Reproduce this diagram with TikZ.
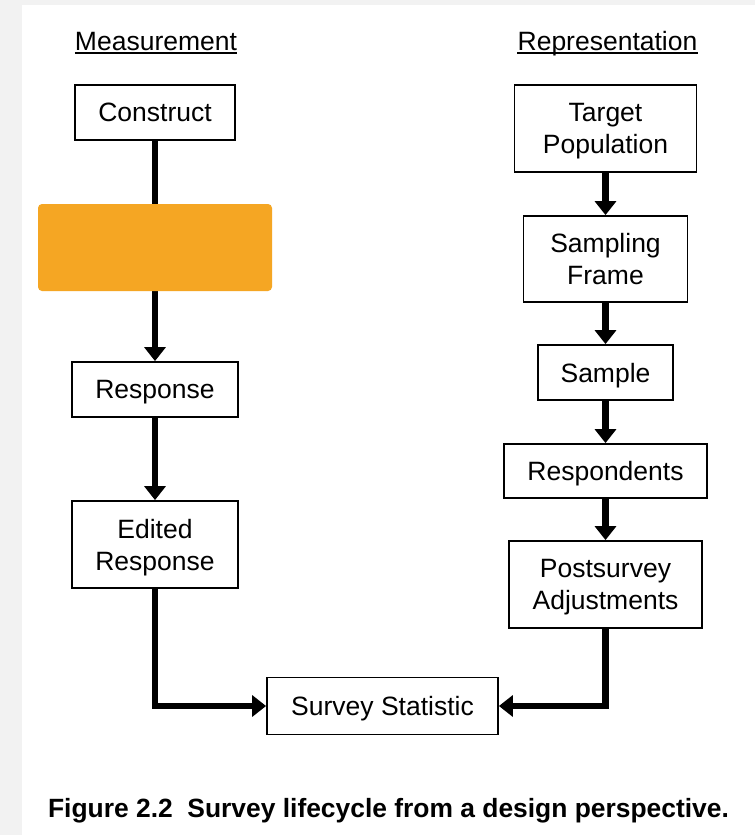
\documentclass[tikz,border=0pt]{standalone}
\usepackage{fontspec}
\setmainfont{Liberation Sans}
\usetikzlibrary{arrows.meta}
\definecolor{pagegray}{HTML}{F2F2F2}
\definecolor{coverorange}{HTML}{F5A623}
\tikzset{
  stage/.style={draw=black, line width=1.8pt, fill=white, align=center,
    inner sep=0pt, text depth=0pt, font=\fontsize{26.5}{32}\selectfont},
  flow/.style={line width=6.5pt,
    -{Triangle[width=21pt,length=14pt]}},
  heading/.style={inner sep=0pt, anchor=base, font=\fontsize{26.5}{31}\selectfont},
}
\begin{document}
\begin{tikzpicture}[x=1pt, y=-1pt]
  % page and panel
  \fill[pagegray] (0,0) rectangle (755,835);
  \fill[white] (22,5) rectangle (755,835);
  \useasboundingbox (0,0) rectangle (755,835);

  % column headings
  \node[heading] (hmeas) at (156,50) {Measurement};
  \node[heading] (hrep) at (607.5,50) {Representation};
  \draw[line width=1.3pt] ([yshift=-3pt]hmeas.base west) -- ([yshift=-3pt]hmeas.base east);
  \draw[line width=1.3pt] ([yshift=-3pt]hrep.base west) -- ([yshift=-3pt]hrep.base east);

  % measurement side
  \node[stage, minimum width=160pt, minimum height=55pt] (construct) at (155,112.5) {Construct};
  \node[stage, minimum width=166pt, minimum height=55pt] (response) at (155,389.5) {Response};
  \node[stage, minimum width=166pt, minimum height=87pt] (edited) at (155,544.5) {Edited\\Response};

  % representation side
  \node[stage, minimum width=182pt, minimum height=87pt] (target) at (605.5,128.5) {Target\\Population};
  \node[stage, minimum width=164pt, minimum height=86pt] (frame) at (605.5,259) {Sampling\\Frame};
  \node[stage, minimum width=135pt, minimum height=55pt] (sample) at (605.5,372.5) {Sample};
  \node[stage, minimum width=203pt, minimum height=54pt] (respondents) at (605.5,471) {Respondents};
  \node[stage, minimum width=193pt, minimum height=87pt] (post) at (605.5,584.5) {Postsurvey\\Adjustments};

  % estimate
  \node[stage, minimum width=231pt, minimum height=57pt] (statistic) at (382.5,706) {Survey Statistic};

  % connectors
  \draw[flow] (construct) -- (response);
  \draw[flow] (response) -- (edited);
  \draw[flow] (target) -- (frame);
  \draw[flow] (frame) -- (sample);
  \draw[flow] (sample) -- (respondents);
  \draw[flow] (respondents) -- (post);
  \draw[flow] (edited.south) |- (statistic.west);
  \draw[flow] (post.south) |- (statistic.east);

  % cover panel
  \fill[coverorange, rounded corners=4pt] (38,204) rectangle (272,291);

  % caption
  \node[inner sep=0pt, anchor=base, font=\bfseries\fontsize{26.4}{31}\selectfont] (caption) at (388.5,817)
    {Figure 2.2\ \ Survey lifecycle from a design perspective.};
\end{tikzpicture}
\end{document}
